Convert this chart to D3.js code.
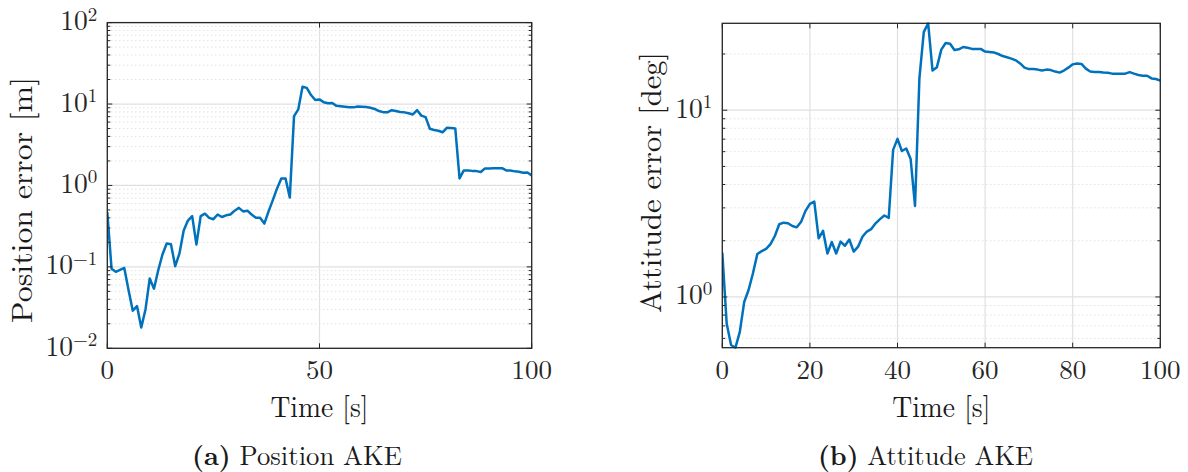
<!DOCTYPE html>
<html>
<head>
<meta charset="utf-8">
<script src="https://cdn.jsdelivr.net/npm/d3@7"></script>
<style>
  html, body { margin: 0; padding: 0; background: #fff; }
  svg { display: block; }
</style>
</head>
<body>
<svg id="fig" width="1188" height="472"></svg>
<script>
// Sample times [s]
const timeS = [
  0, 1, 2, 3, 4, 5, 6, 7, 8, 9, 10, 11, 12, 13, 14, 15, 16, 17, 18, 19,
  20, 21, 22, 23, 24, 25, 26, 27, 28, 29, 30, 31, 32, 33, 34, 35, 36, 37, 38, 39,
  40, 41, 42, 43, 44, 45, 46, 47, 48, 49, 50, 51, 52, 53, 54, 55, 56, 57, 58, 59,
  60, 61, 62, 63, 64, 65, 66, 67, 68, 69, 70, 71, 72, 73, 74, 75, 76, 77, 78, 79,
  80, 81, 82, 83, 84, 85, 86, 87, 88, 89, 90, 91, 92, 93, 94, 95, 96, 97, 98, 99, 100
];

// Position AKE error [m]
const positionErr = [
  0.47, 0.095, 0.087, 0.092, 0.097, 0.052, 0.029, 0.033, 0.018, 0.030,
  0.072, 0.054, 0.091, 0.142, 0.194, 0.19, 0.102, 0.146, 0.28, 0.37,
  0.42, 0.188, 0.42, 0.45, 0.40, 0.385, 0.44, 0.41, 0.43, 0.44,
  0.49, 0.53, 0.48, 0.49, 0.44, 0.40, 0.40, 0.34, 0.48, 0.66,
  0.92, 1.22, 1.22, 0.71, 7.1, 8.6, 16.3, 15.8, 12.9, 11.2,
  11.4, 10.5, 10.2, 10.3, 9.5, 9.4, 9.25, 9.1, 9.1, 9.3,
  9.25, 9.2, 9.0, 8.7, 8.2, 7.95, 7.9, 8.4, 8.2, 8.0,
  7.9, 7.7, 7.45, 8.4, 7.2, 6.9, 4.97, 4.8, 4.7, 4.5,
  5.1, 5.06, 5.0, 1.22, 1.53, 1.53, 1.51, 1.5, 1.46, 1.62,
  1.62, 1.63, 1.63, 1.63, 1.53, 1.53, 1.49, 1.47, 1.43, 1.44,
  1.33
];

// Attitude AKE error [deg]
const attitudeErr = [
  1.73, 0.72, 0.553, 0.535, 0.65, 0.94, 1.09, 1.34, 1.70, 1.76,
  1.81, 1.92, 2.12, 2.45, 2.50, 2.48, 2.40, 2.36, 2.53, 2.89,
  3.15, 3.24, 2.06, 2.26, 1.71, 1.97, 1.71, 1.98, 1.88, 2.03,
  1.75, 1.86, 2.10, 2.24, 2.31, 2.48, 2.61, 2.73, 2.65, 6.13,
  7.02, 6.05, 6.24, 5.48, 3.07, 14.8, 26.2, 29.2, 16.3, 17.0,
  21.1, 22.9, 22.7, 21.0, 21.2, 21.8, 21.6, 21.3, 21.3, 21.3,
  20.6, 20.5, 20.4, 20.0, 19.5, 19.2, 18.9, 18.5, 17.8, 16.9,
  16.6, 16.6, 16.5, 16.3, 16.5, 16.4, 16.1, 15.9, 16.3, 16.9,
  17.6, 17.8, 17.7, 16.7, 16.1, 16.0, 16.0, 15.9, 15.85, 15.7,
  15.7, 15.7, 15.7, 16.0, 15.7, 15.45, 15.3, 15.3, 14.8, 14.7,
  14.4
];

// Axis ticks and labels
const posXTicks = [0, 50, 100];
const attXTicks = [0, 20, 40, 60, 80, 100];
const posYDomain = [1e-2, 1e2];
const posYTicks = [1e-2, 1e-1, 1, 10, 100];
const posYTickLabels = [["10", "\u22122"], ["10", "\u22121"], ["10", "0"], ["10", "1"], ["10", "2"]];
const attYTicks = [1, 10];
const attYTickLabels = [["10", "0"], ["10", "1"]];
const xLabel = "Time [s]";
const posYLabel = "Position error [m]";
const attYLabel = "Attitude error [deg]";
const captions = [["(a)", " Position AKE"], ["(b)", " Attitude AKE"]];

const FONT = '"Latin Modern Roman", "CMU Serif", "Liberation Serif", serif';
const svg = d3.select("#fig");
const lineColor = "#0072BD";
const axisColor = "#262626";
const textColor = "#1a1a1a";

const panels = [
  {
    id: "pos", box: { l: 107.3, r: 531.7, t: 22.6, b: 348.3 },
    values: positionErr, yDomain: posYDomain,
    xTicks: posXTicks, yTicks: posYTicks, yTickLabels: posYTickLabels,
    yLabel: posYLabel, yLabelPos: { x: 31.5, y: 200, len: 246 },
    caption: captions[0], capPos: { x: 192, len: 210 }
  },
  {
    id: "att", box: { l: 722.3, r: 1160.3, t: 23.3, b: 347.7 },
    values: attitudeErr, yDomain: d3.extent(attitudeErr),
    xTicks: attXTicks, yTicks: attYTicks, yTickLabels: attYTickLabels,
    yLabel: attYLabel, yLabelPos: { x: 661, y: 182.5, len: 261 },
    caption: captions[1], capPos: { x: 818, len: 215 }
  }
];

panels.forEach(p => {
  const b = p.box;
  const x = d3.scaleLinear().domain([0, 100]).range([b.l, b.r]);
  const y = d3.scaleLog().domain(p.yDomain).range([b.b, b.t]);
  const g = svg.append("g");

  const allY = y.ticks();
  const isDecade = v => Math.abs(Math.log10(v) - Math.round(Math.log10(v))) < 1e-9;
  const minorY = allY.filter(v => !isDecade(v));

  // minor grid (dotted)
  g.append("g").selectAll("line").data(minorY).join("line")
    .attr("x1", b.l).attr("x2", b.r)
    .attr("y1", d => y(d)).attr("y2", d => y(d))
    .attr("stroke", "#d4d4d4").attr("stroke-width", 1)
    .attr("stroke-dasharray", "1,3");

  // major grid
  g.append("g").selectAll("line").data(p.yTicks).join("line")
    .attr("x1", b.l).attr("x2", b.r)
    .attr("y1", d => y(d)).attr("y2", d => y(d))
    .attr("stroke", "#e0e0e0").attr("stroke-width", 1.2);
  g.append("g").selectAll("line").data(p.xTicks).join("line")
    .attr("y1", b.t).attr("y2", b.b)
    .attr("x1", d => x(d)).attr("x2", d => x(d))
    .attr("stroke", "#e0e0e0").attr("stroke-width", 1.2);

  // data line
  const clipId = "clip-" + p.id;
  svg.append("clipPath").attr("id", clipId)
    .append("rect").attr("x", b.l).attr("y", b.t - 1)
    .attr("width", b.r - b.l).attr("height", b.b - b.t + 2);
  const pts = timeS.map((t, i) => [t, p.values[i]]);
  g.append("path")
    .datum(pts)
    .attr("clip-path", `url(#${clipId})`)
    .attr("fill", "none")
    .attr("stroke", lineColor)
    .attr("stroke-width", 2.5)
    .attr("stroke-linejoin", "round")
    .attr("d", d3.line().x(d => x(d[0])).y(d => y(d[1])));

  // inward ticks on all four sides
  const tk = g.append("g").attr("stroke", axisColor).attr("stroke-width", 1);
  p.xTicks.forEach(v => {
    tk.append("line").attr("x1", x(v)).attr("x2", x(v)).attr("y1", b.b).attr("y2", b.b - 5);
    tk.append("line").attr("x1", x(v)).attr("x2", x(v)).attr("y1", b.t).attr("y2", b.t + 5);
  });
  allY.forEach(v => {
    const len = isDecade(v) ? 5 : 3;
    tk.append("line").attr("x1", b.l).attr("x2", b.l + len).attr("y1", y(v)).attr("y2", y(v));
    tk.append("line").attr("x1", b.r).attr("x2", b.r - len).attr("y1", y(v)).attr("y2", y(v));
  });

  // axes box
  g.append("rect")
    .attr("x", b.l).attr("y", b.t)
    .attr("width", b.r - b.l).attr("height", b.b - b.t)
    .attr("fill", "none").attr("stroke", axisColor).attr("stroke-width", 1.3);

  // x tick labels
  g.append("g").selectAll("text").data(p.xTicks).join("text")
    .attr("x", d => x(d)).attr("y", 379)
    .attr("text-anchor", "middle")
    .style("font-family", FONT).style("font-size", "27px")
    .style("fill", axisColor)
    .text(d => d);

  // y tick labels with exponents
  p.yTicks.forEach((v, i) => {
    const [base, ex] = p.yTickLabels[i];
    const t = g.append("text")
      .attr("x", b.l - 10).attr("y", y(v) + 7.5)
      .attr("text-anchor", "end")
      .style("font-family", FONT).style("font-size", "27.5px")
      .style("fill", axisColor);
    t.append("tspan").text(base);
    t.append("tspan").attr("dy", -9.5).style("font-size", "19px").text(ex);
  });

  // x axis label
  g.append("text")
    .attr("x", (b.l + b.r) / 2).attr("y", 417)
    .attr("text-anchor", "middle")
    .style("font-family", FONT).style("font-size", "29px")
    .style("fill", textColor)
    .attr("textLength", 98).attr("lengthAdjust", "spacingAndGlyphs")
    .text(xLabel);

  // y axis label
  g.append("text")
    .attr("transform", `translate(${p.yLabelPos.x},${p.yLabelPos.y}) rotate(-90)`)
    .attr("text-anchor", "middle")
    .style("font-family", FONT).style("font-size", "29.5px")
    .style("fill", textColor)
    .attr("textLength", p.yLabelPos.len).attr("lengthAdjust", "spacingAndGlyphs")
    .text(p.yLabel);

  // sub-figure caption
  const cap = g.append("text")
    .attr("x", p.capPos.x).attr("y", 465)
    .style("font-family", FONT).style("font-size", "27px")
    .style("fill", textColor)
    .attr("textLength", p.capPos.len).attr("lengthAdjust", "spacingAndGlyphs");
  cap.append("tspan").style("font-weight", "bold").text(p.caption[0]);
  cap.append("tspan").text(p.caption[1]);
});
</script>
</body>
</html>
